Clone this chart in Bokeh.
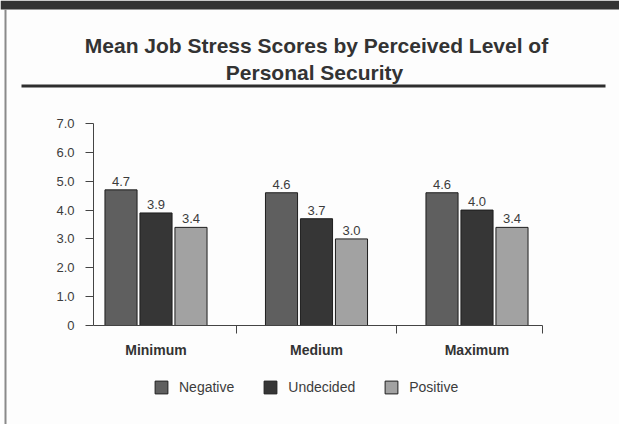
from bokeh.plotting import figure
from bokeh.models import (Range1d, FixedTicker, ColumnDataSource, Legend, LegendItem,
                          Label, BoxAnnotation)
from bokeh.core.properties import value
from bokeh.embed import file_html
from bokeh.resources import INLINE

# ---- data ----
categories = ["Minimum", "Medium", "Maximum"]
series = ["Negative", "Undecided", "Positive"]
negative = [4.7, 4.6, 4.6]
undecided = [3.9, 3.7, 4.0]
positive = [3.4, 3.0, 3.4]
y_ticks = [0, 1, 2, 3, 4, 5, 6, 7]
y_tick_labels = ["0", "1.0", "2.0", "3.0", "4.0", "5.0", "6.0", "7.0"]
title_lines = ["Mean Job Stress Scores by Perceived Level of", "Personal Security"]

# ---- layout (pixels) ----
W, H = 619, 424
X0_PX, X_UNIT = 155.5, 160.5      # pixel of first group centre, pixels per group
Y0_PX, Y_UNIT = 325.0, 28.857     # pixel of value 0, pixels per unit
AX_LEFT_PX, AX_RIGHT_PX = 93, 542

def dx(px):
    return (px - X0_PX) / X_UNIT

def dy(py):
    return (Y0_PX - py) / Y_UNIT

FONT = "Liberation Sans"
colors = ["#5f5f5f", "#363636", "#a2a2a2"]
TEXT = "#3c3c3c"
offsets = [-0.218, 0.0, 0.218]
bar_w = 0.2

p = figure(width=W, height=H, output_backend="svg", toolbar_location=None,
           x_range=Range1d(dx(0), dx(W)), y_range=Range1d(dy(H), dy(0)),
           min_border=0, min_border_left=0, min_border_right=0, min_border_top=0,
           min_border_bottom=0, outline_line_color=None, background_fill_color="#fdfdfd",
           border_fill_color="#fdfdfd")
p.title.visible = False
p.grid.visible = False

# scan frame: dark band on top and thin border on the left
p.add_layout(BoxAnnotation(left=0, right=W, bottom=H - 9, top=H,
                           left_units="screen", right_units="screen",
                           bottom_units="screen", top_units="screen",
                           fill_color="#333333", fill_alpha=1, line_color=None))
p.add_layout(BoxAnnotation(left=4, right=6, bottom=0, top=H - 9,
                           left_units="screen", right_units="screen",
                           bottom_units="screen", top_units="screen",
                           fill_color="#8a8a8a", fill_alpha=1, line_color=None))

renderers = []
for vals, off, col in zip([negative, undecided, positive], offsets, colors):
    xs = [i + off for i in range(len(categories))]
    src = ColumnDataSource(dict(x=xs, top=vals, lab=[f"{v:.1f}" for v in vals]))
    r = p.vbar(x="x", top="top", width=bar_w, bottom=0, source=src,
               fill_color=col, line_color="#1e1e1e", line_width=1)
    renderers.append(r)
    p.text(x="x", y="top", text="lab", source=src, text_align="center",
           text_baseline="bottom", y_offset=-4, text_color=TEXT,
           text_font=value(FONT), text_font_size="13px")

# y axis
ya = p.yaxis[0]
ya.fixed_location = dx(AX_LEFT_PX)
ya.bounds = (0, 7)
ya.ticker = FixedTicker(ticks=y_ticks)
ya.major_label_overrides = {t: l for t, l in zip(y_ticks, y_tick_labels)}
ya.major_tick_out = 8
ya.major_tick_in = 0
ya.minor_tick_line_color = None
ya.major_label_standoff = 11
ya.axis_line_color = "#444444"
ya.major_tick_line_color = "#444444"
ya.major_label_text_font = FONT
ya.major_label_text_font_size = "13px"
ya.major_label_text_color = TEXT

# x axis: labels at group centres, tick marks between groups (minor ticks)
xa = p.xaxis[0]
xa.fixed_location = 0
xa.bounds = (dx(AX_LEFT_PX), dx(AX_RIGHT_PX))
xa.ticker = FixedTicker(ticks=[0, 1, 2], minor_ticks=[0.5, 1.5, dx(AX_RIGHT_PX) - 0.003])
xa.major_label_overrides = {i: c for i, c in enumerate(categories)}
xa.major_tick_line_color = None
xa.major_tick_out = 0
xa.major_tick_in = 0
xa.minor_tick_out = 8
xa.minor_tick_in = 0
xa.minor_tick_line_color = "#444444"
xa.axis_line_color = "#444444"
xa.major_label_standoff = 8
xa.major_label_text_font = FONT
xa.major_label_text_font_style = "bold"
xa.major_label_text_font_size = "14px"
xa.major_label_text_color = "#333333"

# title and rule (screen units: frame covers the whole canvas, origin bottom-left)
p.add_layout(Label(x=316, y=H - 45, x_units="screen", y_units="screen", text=title_lines[0],
                   text_align="center", text_baseline="alphabetic", text_font=FONT,
                   text_font_size="21px", text_font_style="bold", text_color="#333333"))
p.add_layout(Label(x=314, y=H - 72, x_units="screen", y_units="screen", text=title_lines[1],
                   text_align="center", text_baseline="alphabetic", text_font=FONT,
                   text_font_size="21px", text_font_style="bold", text_color="#333333"))
p.add_layout(BoxAnnotation(left=21, right=605, bottom=H - 87, top=H - 84,
                           left_units="screen", right_units="screen",
                           bottom_units="screen", top_units="screen",
                           fill_color="#2e2e2e", fill_alpha=1, line_color=None))

legend = Legend(items=[LegendItem(label=s, renderers=[r]) for s, r in zip(series, renderers)],
                orientation="horizontal", location=(153, H - 395), padding=0, margin=0,
                spacing=28, glyph_width=16, glyph_height=16, label_standoff=10,
                label_height=16, label_text_font=FONT, label_text_font_size="14px",
                label_text_color=TEXT, border_line_color=None, background_fill_alpha=0)
p.add_layout(legend)

open("out.html", "w").write(file_html(p, INLINE))
